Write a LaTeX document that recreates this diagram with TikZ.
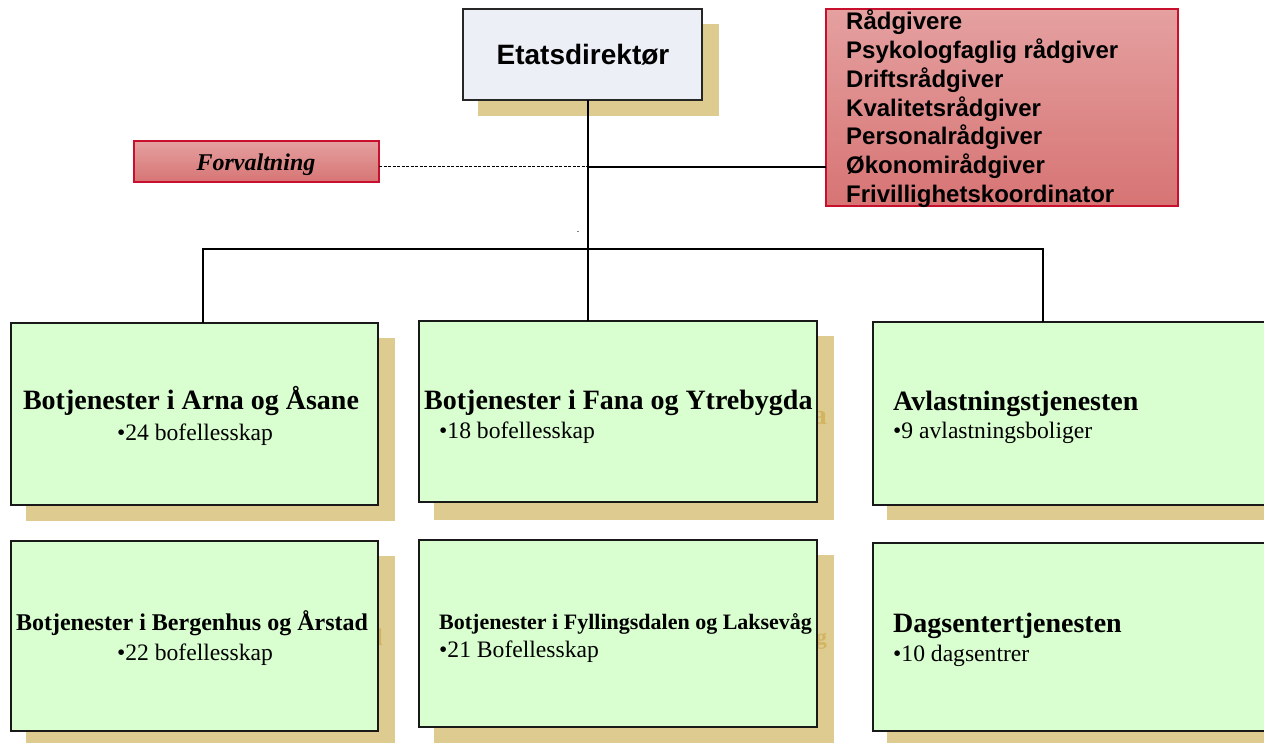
\documentclass[tikz,border=0pt]{standalone}
\usepackage{fontspec}
\setmainfont{Liberation Serif}
\newfontfamily\arialf{Liberation Sans}
\definecolor{shadowtan}{HTML}{DDCB8F}
\definecolor{shadowtxt}{HTML}{D3B460}
\definecolor{boxgreen}{HTML}{D9FED0}
\definecolor{etatfill}{HTML}{ECEFF5}
\definecolor{redtop}{HTML}{E5A0A0}
\definecolor{redbot}{HTML}{D77474}
\definecolor{redline}{HTML}{C8102E}
\begin{document}
\begin{tikzpicture}[x=1pt,y=-1pt,
  shadowbox/.style={fill=shadowtan, draw=none, inner sep=0pt, outer sep=0pt},
  frontbox/.style={fill=boxgreen, draw=black!90, line width=2pt, inner sep=0pt, outer sep=0pt},
  bigtitle/.style={font=\fontsize{28}{33}\selectfont\bfseries, inner sep=0pt},
  midtitle/.style={font=\fontsize{24}{29}\selectfont\bfseries, inner sep=0pt},
  smalltitle/.style={font=\fontsize{22}{27}\selectfont\bfseries, inner sep=0pt},
  subtxt/.style={font=\fontsize{23.6}{28}\selectfont, inner sep=0pt},
  redtxt/.style={font=\arialf\fontsize{24}{29}\selectfont\bfseries, inner sep=0pt, anchor=base west},
  conn/.style={line width=1.4pt, draw=black}]
\path[use as bounding box, clip] (0,0) rectangle (1264,743);

% ---------- shadows ----------
\node[shadowbox, minimum width=241, minimum height=92, anchor=north west] (etatS) at (478,24) {};
\node[shadowbox, minimum width=369, minimum height=183, anchor=north west] (arnaS) at (26,338) {};
\node[shadowbox, minimum width=400, minimum height=184, anchor=north west] (fanaS) at (434,336) {};
\node[shadowbox, minimum width=400, minimum height=183, anchor=north west] (avlS) at (887,337) {};
\node[shadowbox, minimum width=369, minimum height=190, anchor=north west] (bergS) at (26,556) {};
\node[shadowbox, minimum width=400, minimum height=190, anchor=north west] (fyllS) at (434,555) {};
\node[shadowbox, minimum width=400, minimum height=190, anchor=north west] (dagS) at (887,558) {};

% ---------- visible ends of the shadow texts ----------
\node[bigtitle, text=shadowtxt, anchor=base east] (fanaTS) at (827,424) {a};
\node[midtitle, text=shadowtxt, anchor=base east] (bergTS) at (383,645) {d};
\node[smalltitle, text=shadowtxt, anchor=base east] (fyllTS) at (827,644) {g};

% ---------- connector points ----------
\coordinate (trunkTop) at (588,100);
\coordinate (busL) at (203,249);
\coordinate (busR) at (1043,249);
\coordinate (sideJ) at (588,167);

% ---------- front boxes ----------
\node[fill=etatfill, draw=black!85, line width=2pt, inner sep=0pt, outer sep=0pt,
      minimum width=239, minimum height=91, anchor=north west] (etat) at (463,9) {};
\node[draw=redline, line width=1.2pt, top color=redtop, bottom color=redbot,
      inner sep=0pt, outer sep=0pt, minimum width=352, minimum height=197, anchor=north west] (radg) at (826,9) {};
\node[draw=redline, line width=1.2pt, top color=redtop, bottom color=redbot,
      inner sep=0pt, outer sep=0pt, minimum width=245, minimum height=41, anchor=north west] (forv) at (134,141) {};

\node[frontbox, minimum width=367, minimum height=182, anchor=north west] (arna) at (11,323) {};
\node[frontbox, minimum width=398, minimum height=181, anchor=north west] (fana) at (419,321) {};
\node[frontbox, minimum width=400, minimum height=183, anchor=north west] (avl) at (873,322) {};
\node[frontbox, minimum width=367, minimum height=190, anchor=north west] (berg) at (11,541) {};
\node[frontbox, minimum width=398, minimum height=187, anchor=north west] (fyll) at (419,540) {};
\node[frontbox, minimum width=400, minimum height=188, anchor=north west] (dag) at (873,543) {};

% connector lines
\draw[conn] (trunkTop) -- (fana.north -| trunkTop);
\draw[conn] (arna.north -| busL) -- (busL) -- (busR) -- (avl.north -| busR);
\draw[line width=1pt, dash pattern=on 3pt off 1.5pt] (forv.east |- sideJ) -- (sideJ);
\draw[conn] (sideJ) -- (radg.west |- sideJ);
\fill (578,231.5) circle (0.7);

% ---------- texts ----------
\node[font=\arialf\fontsize{28}{33}\selectfont\bfseries, inner sep=0pt, anchor=base] (etatT) at (583,65) {Etatsdirektør};
\node[font=\fontsize{24}{29}\selectfont\bfseries\itshape, inner sep=0pt, anchor=base] (forvT) at (256,171) {Forvaltning};

\node[redtxt] (r1) at (846,30) {Rådgivere};
\node[redtxt] (r2) at (846,59) {Psykologfaglig rådgiver};
\node[redtxt] (r3) at (846,88) {Driftsrådgiver};
\node[redtxt] (r4) at (846,117) {Kvalitetsrådgiver};
\node[redtxt] (r5) at (846,145) {Personalrådgiver};
\node[redtxt] (r6) at (846,174) {Økonomirådgiver};
\node[redtxt] (r7) at (846,203) {Frivillighetskoordinator};

\node[bigtitle, anchor=base] (arnaT) at (191,409) {Botjenester i Arna og Åsane};
\node[subtxt, anchor=base] (arnaU) at (195,440) {•24 bofellesskap};
\node[bigtitle, anchor=base west] (fanaT) at (424,409) {Botjenester i Fana og Ytrebygda};
\node[subtxt, anchor=base west] (fanaU) at (439,438) {•18 bofellesskap};
\node[bigtitle, anchor=base west] (avlT) at (893,410) {Avlastningstjenesten};
\node[subtxt, anchor=base west] (avlU) at (893,438) {•9 avlastningsboliger};

\node[midtitle, anchor=base] (bergT) at (192,630) {Botjenester i Bergenhus og Årstad};
\node[subtxt, anchor=base] (bergU) at (195,660) {•22 bofellesskap};
\node[smalltitle, anchor=base west] (fyllT) at (439,629) {Botjenester i Fyllingsdalen og Laksevåg};
\node[subtxt, anchor=base west] (fyllU) at (439,657) {•21 Bofellesskap};
\node[bigtitle, anchor=base west] (dagT) at (893,632) {Dagsentertjenesten};
\node[subtxt, anchor=base west] (dagU) at (893,661) {•10 dagsentrer};
\end{tikzpicture}
\end{document}
